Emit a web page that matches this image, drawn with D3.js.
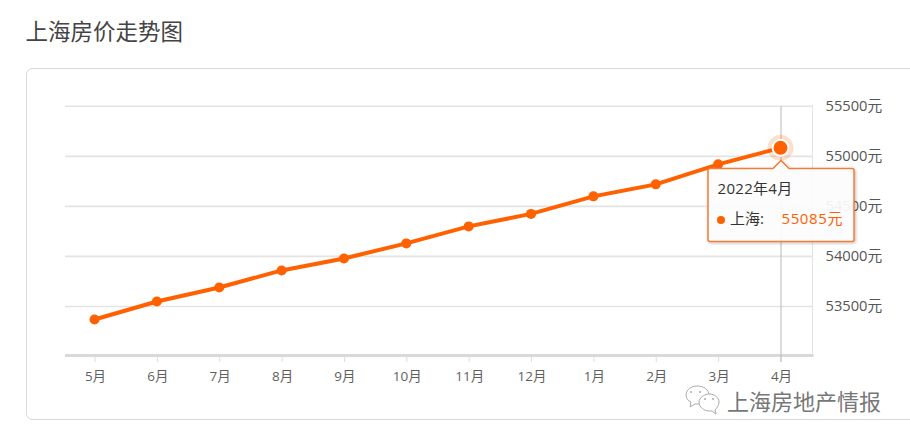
<!DOCTYPE html>
<html><head><meta charset="utf-8">
<script src="https://cdn.jsdelivr.net/npm/d3@7"></script>
<style>html,body{margin:0;padding:0;background:#fff;overflow:hidden}svg{display:block}
text{font-family:"Open Sans","Noto Sans CJK SC",sans-serif}</style></head><body>
<svg id="c" width="910" height="442"></svg>
<script>
const categories=["5月","6月","7月","8月","9月","10月","11月","12月","1月","2月","3月","4月"];
const values=[53370,53550,53690,53860,53980,54130,54300,54425,54600,54720,54920,55085];
const yTicks=[53500,54000,54500,55000,55500];
const titleText="上海房价走势图";
const tooltipTitle="2022年4月";
const seriesName="上海:";
const unit="元";
const watermark="上海房地产情报";
const color="#ff6000";
const svg=d3.select("#c");
svg.append("text").attr("x",25.5).attr("y",40).attr("font-size",22.5).attr("fill","#444").text(titleText);
svg.append("rect").attr("x",26.5).attr("y",68.5).attr("width",900).attr("height",351).attr("rx",6).attr("fill","#fff").attr("stroke","#d9d9d9");
const x=d3.scalePoint().domain(categories).range([94.5,780.5]);
const y=d3.scaleLinear().domain([53000,55500]).range([356.5,106.3]);
const L=65,R=812.5;
const g=svg.append("g");
yTicks.forEach(t=>{
 g.append("line").attr("x1",L).attr("x2",R).attr("y1",y(t)).attr("y2",y(t)).attr("stroke","#e4e4e4").attr("stroke-width",1.6);
 g.append("text").attr("x",825.5).attr("y",y(t)+4.5).attr("font-size",14.7).attr("fill","#555").text(t+unit);
});
g.append("line").attr("x1",R).attr("x2",R).attr("y1",105).attr("y2",356).attr("stroke","#e3e3e3").attr("stroke-width",1);
g.append("line").attr("x1",L).attr("x2",R+1).attr("y1",355.5).attr("y2",355.5).attr("stroke","#d9d9d9").attr("stroke-width",3);
categories.forEach(c=>{
 g.append("line").attr("x1",x(c)+.5).attr("x2",x(c)+.5).attr("y1",357).attr("y2",362).attr("stroke","#ddd");
 g.append("text").attr("x",x(c)+1).attr("y",381).attr("text-anchor","middle").attr("font-size",13.5).attr("fill","#5f5f5f").text(c);
});
const last=categories[categories.length-1], lastV=values[values.length-1];
g.append("line").attr("x1",x(last)+.5).attr("x2",x(last)+.5).attr("y1",106).attr("y2",362).attr("stroke","#b8b8b8");
g.append("path").datum(values).attr("fill","none").attr("stroke",color).attr("stroke-width",4)
 .attr("d",d3.line().x((d,i)=>x(categories[i])).y(d=>y(d)));
g.selectAll("circle.p").data(values).join("circle").attr("class","p").attr("cx",(d,i)=>x(categories[i])).attr("cy",d=>y(d)).attr("r",5).attr("fill",color);
g.append("circle").attr("cx",x(last)).attr("cy",y(lastV)).attr("r",13).attr("fill",color).attr("opacity",.2);
g.append("circle").attr("cx",x(last)).attr("cy",y(lastV)).attr("r",9).attr("fill","#fff");
g.append("circle").attr("cx",x(last)).attr("cy",y(lastV)).attr("r",7).attr("fill",color);
// tooltip
const defs=svg.append("defs");
const f=defs.append("filter").attr("id","s").attr("x","-10%").attr("y","-10%").attr("width","125%").attr("height","125%");
f.append("feDropShadow").attr("dx",1).attr("dy",1).attr("stdDeviation",1.5).attr("flood-color","#000").attr("flood-opacity",.28);
const tx=708,ty=168.5,tw=146,th=73,ax=x(last)+.5;
const tp=`M${tx+2},${ty}H${ax-8}L${ax},${ty-8}L${ax+8},${ty}H${tx+tw-2}Q${tx+tw},${ty} ${tx+tw},${ty+2}V${ty+th-2}Q${tx+tw},${ty+th} ${tx+tw-2},${ty+th}H${tx+2}Q${tx},${ty+th} ${tx},${ty+th-2}V${ty+2}Q${tx},${ty} ${tx+2},${ty}Z`;
g.append("path").attr("d",tp).attr("fill","#fff").attr("fill-opacity",.9).attr("stroke","#f47b38").attr("stroke-width",1.5).attr("filter","url(#s)");
g.append("text").attr("x",717.5).attr("y",194).attr("font-size",15).attr("letter-spacing",.3).attr("fill","#333").text(tooltipTitle);
g.append("circle").attr("cx",721).attr("cy",220).attr("r",4).attr("fill",color);
g.append("text").attr("x",730).attr("y",224).attr("font-size",15).attr("fill","#333").text(seriesName);
g.append("text").attr("x",781.5).attr("y",224).attr("font-size",15).attr("letter-spacing",.6).attr("fill",color).text(lastV+unit);
// watermark
const w=svg.append("g").attr("fill","#fff").attr("stroke","#aaa").attr("stroke-width",1);
w.append("path").attr("d","M697,386c-6,0-11,4-11,9c0,3,2,6,5,7l-1,5l5,-3c1,0,2,0,3,0c6,0,11,-4,11,-9c0,-5,-5,-9,-12,-9Z");
w.append("path").attr("d","M709,394c-5,0-10,4-10,8c0,5,5,9,10,9c1,0,2,0,3,0l4,3l-1,-4c2,-2,4,-5,4,-8c0,-4,-4,-8,-10,-8Z");
[[691,392],[700,392],[705,399],[713,399]].forEach(p=>w.append("circle").attr("cx",p[0]).attr("cy",p[1]).attr("r",1).attr("fill","#aaa").attr("stroke","none"));
svg.append("text").attr("x",727).attr("y",410).attr("font-size",22).attr("fill","#777").text(watermark);
</script></body></html>
